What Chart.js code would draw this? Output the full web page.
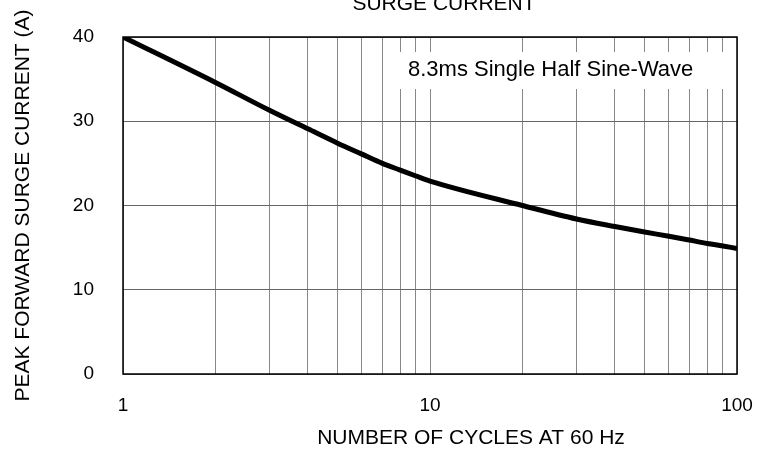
<!DOCTYPE html>
<html>
<head>
<meta charset="utf-8">
<script src="https://cdn.jsdelivr.net/npm/chart.js@4/dist/chart.umd.min.js"></script>
<style>
  html, body { margin: 0; padding: 0; background: #fff; }
  #wrap { width: 766px; height: 459px; position: relative; }
</style>
</head>
<body>
<div id="wrap"><canvas id="surgeChart"></canvas></div>
<script>
  // values
  const cycles = [1, 2, 3, 4, 5, 6, 7, 8, 9, 10, 20, 30, 40, 50, 60, 70, 80, 90, 100];
  const surgeCurrent = [40, 34.6, 31.3, 29.1, 27.4, 26.1, 25.0, 24.2, 23.5, 22.9, 20.0, 18.4, 17.5, 16.85, 16.35, 15.9, 15.5, 15.2, 14.9];

  // grid lines and tick labels
  const gridCycles = [1, 2, 3, 4, 5, 6, 7, 8, 9, 10, 20, 30, 40, 50, 60, 70, 80, 90, 100];
  const labeledCycles = [1, 10, 100];
  const currentTicks = [0, 10, 20, 30, 40];

  const chartTitle = 'SURGE CURRENT';
  const xTitle = 'NUMBER OF CYCLES AT 60 Hz';
  const noteText = '8.3ms Single Half Sine-Wave';

  Chart.defaults.font.family = '"Liberation Sans", Arial, sans-serif';
  Chart.defaults.color = '#000';

  // frame, note box, x title and the clipped title at the top
  const decorations = {
    id: 'decorations',
    beforeDatasetsDraw(chart) {
      const ctx = chart.ctx;
      const a = chart.chartArea;
      ctx.save();
      ctx.fillStyle = '#fff';
      ctx.fillRect(398, 52, 330, 37);
      ctx.font = '22px "Liberation Sans", Arial, sans-serif';
      ctx.fillStyle = '#000';
      ctx.textAlign = 'left';
      ctx.textBaseline = 'middle';
      ctx.fillText(noteText, 408, 70);
      ctx.strokeStyle = '#000';
      ctx.lineWidth = 1.5;
      ctx.strokeRect(a.left, a.top, a.right - a.left, a.bottom - a.top);
      ctx.restore();
    },
    afterDraw(chart) {
      const ctx = chart.ctx;
      ctx.save();
      ctx.font = '21px "Liberation Sans", Arial, sans-serif';
      ctx.fillStyle = '#000';
      ctx.textAlign = 'center';
      ctx.textBaseline = 'alphabetic';
      ctx.fillText(chartTitle, 444, 9.5);
      ctx.textBaseline = 'middle';
      ctx.fillText(xTitle, 471, 438);
      ctx.restore();
    }
  };

  const ctx = document.getElementById('surgeChart').getContext('2d');
  new Chart(ctx, {
    type: 'scatter',
    data: {
      datasets: [{
        data: cycles.map((c, i) => ({ x: c, y: surgeCurrent[i] })),
        showLine: true,
        borderColor: '#000',
        borderWidth: 5,
        pointRadius: 0,
        cubicInterpolationMode: 'monotone',
        fill: false
      }]
    },
    options: {
      responsive: true,
      maintainAspectRatio: false,
      animation: false,
      layout: { padding: { top: 37, right: 29, left: 0, bottom: 0 } },
      plugins: {
        legend: { display: false },
        tooltip: { enabled: false }
      },
      scales: {
        x: {
          type: 'logarithmic',
          min: 1,
          max: 100,
          afterBuildTicks: function(scale) {
            scale.ticks = gridCycles.map(v => ({ value: v }));
          },
          afterFit: function(scale) {
            scale.height = 85;
            scale.paddingLeft = 0;
            scale.paddingRight = 0;
          },
          grid: { color: '#888', lineWidth: 1, drawTicks: false },
          border: { display: false },
          ticks: {
            autoSkip: false,
            maxRotation: 0,
            padding: 20,
            font: { size: 19 },
            callback: function(value) {
              return labeledCycles.includes(value) ? String(value) : '';
            }
          }
        },
        y: {
          min: 0,
          max: 40,
          afterBuildTicks: function(scale) {
            scale.ticks = currentTicks.map(v => ({ value: v }));
          },
          afterFit: function(scale) {
            scale.width = 123;
            scale.paddingTop = 0;
            scale.paddingBottom = 0;
          },
          grid: { color: '#666', lineWidth: 1, drawTicks: false },
          border: { display: false },
          ticks: { padding: 29, font: { size: 19 } },
          title: {
            display: true,
            text: 'PEAK FORWARD SURGE CURRENT (A)',
            font: { size: 21 },
            padding: { top: 11, bottom: 0 }
          }
        }
      }
    },
    plugins: [decorations]
  });
</script>
</body>
</html>
